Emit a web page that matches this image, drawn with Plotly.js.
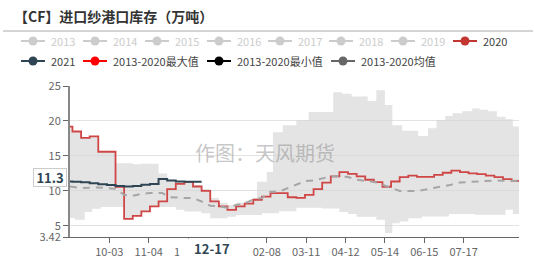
<!DOCTYPE html>
<html><head><meta charset="utf-8">
<script src="https://cdn.plot.ly/plotly-3.0.1.min.js"></script>
<style>html,body{margin:0;padding:0;background:#fff;}#chart{width:534px;height:271px;}</style>
</head><body><div id="chart"></div>
<script>
// season calendar 09-01 .. 08-31 (category days)
const monthDays = [[9,30],[10,31],[11,30],[12,31],[1,31],[2,29],[3,31],[4,30],[5,31],[6,30],[7,31],[8,31]];
const categories = [];
monthDays.forEach(([m,n]) => { for (let d = 1; d <= n; d++) categories.push(String(m).padStart(2,'0') + '-' + String(d).padStart(2,'0')); });

const tickLabels = ['10-03','11-04','12-06','01-07','02-08','03-11','04-12','05-14','06-15','07-17'];
const tickShown  = ['10-03','11-04','12-06','','02-08','03-11','04-12','05-14','06-15','07-17'];
const yTicks = [3.42, 5, 10, 15, 20, 25];

const dates2020 = ['09-01','09-03','09-10','09-17','09-24','10-08','10-15','10-22','10-29','11-05','11-12','11-19','11-26','12-03','12-10','12-17','12-24','12-31','01-07','01-14','01-21','01-28','02-04','02-11','02-25','03-03','03-10','03-17','03-24','03-31','04-07','04-14','04-21','04-28','05-05','05-12','05-19','05-26','06-02','06-09','06-23','06-30','07-07','07-14','07-21','07-28','08-04','08-11','08-18','08-25','08-31'];
const values2020 = [19.2,18.5,17.6,17.8,15.6,10.6,6.0,6.45,7.07,7.8,8.5,10.26,11.0,11.3,10.64,10.0,8.5,7.8,7.3,7.8,8.2,8.74,9.2,9.7,9.1,9.0,9.45,10.26,11.2,12.07,12.7,12.45,12.07,11.6,11.26,10.6,11.35,11.97,12.2,12.0,12.3,12.6,12.9,12.7,12.5,12.4,12.2,11.97,11.7,11.45,11.45];

const dates2021 = ['09-01','09-03','09-10','09-17','09-24','10-01','10-08','10-15','10-22','10-29','11-05','11-12','11-19','11-26','12-03','12-10','12-17'];
const values2021 = [11.35,11.3,11.25,11.1,10.95,10.85,10.7,10.65,10.7,10.9,11.0,11.7,11.5,11.35,11.3,11.3,11.3];

const datesAvg = ['09-01','09-10','09-24','10-03','10-08','10-15','10-22','10-29','11-05','11-15','11-22','12-03','12-10','12-17','12-24','12-31','01-07','01-14','01-21','01-28','02-04','02-11','02-18','02-25','03-03','03-10','03-17','03-24','03-31','04-07','04-14','04-21','04-28','05-05','05-12','05-19','05-26','06-02','06-09','06-16','06-23','06-30','07-07','07-14','07-21','07-28','08-04','08-11','08-18','08-25','08-31'];
const valuesAvg = [10.64,10.4,10.5,10.4,10.3,9.45,9.3,9.6,9.7,9.7,9.1,9.0,9.0,8.5,7.9,7.8,7.6,8.0,8.2,8.8,9.0,9.9,9.9,10.4,10.9,11.4,11.5,11.8,12.07,12.1,12.0,11.6,11.4,11.3,10.9,10.4,10.0,10.0,10.0,10.2,10.4,10.7,10.9,11.2,11.3,11.4,11.45,11.5,11.45,11.5,11.45];

const datesMax = ['09-01','09-03','09-10','09-17','09-24','10-08','10-22','10-29','11-12','11-19','11-26','12-03','12-10','12-17','12-24','12-31','01-07','01-14','01-21','01-28','01-31','02-08','02-13','02-21','03-03','03-13','04-02','04-09','04-17','04-30','05-07','05-14','05-20','05-28','06-10','06-18','06-25','07-02','07-08','07-16','07-24','07-30','08-06','08-13','08-20','08-26','08-31'];
const valuesMax = [19.2,18.5,17.6,17.8,15.6,13.97,13.8,13.9,12.5,11.5,11.4,11.3,10.8,10.3,9.0,8.3,8.0,8.3,8.6,9.0,11.3,12.7,18.4,19.4,20.1,21.3,24.1,23.9,23.5,22.86,24.4,22.3,19.4,18.6,17.87,18.96,20.15,20.7,21.1,21.4,21.8,21.6,21.4,20.6,20.25,19.2,19.2];

const datesMin = ['09-01','09-05','09-13','09-19','09-26','10-15','10-22','10-29','11-05','11-26','12-03','12-17','12-24','01-07','01-14','02-04','02-18','03-03','03-24','04-07','04-14','04-21','05-07','05-14','05-20','05-26','06-02','06-13','07-05','07-26','08-20','08-26','08-31'];
const valuesMin = [6.15,5.9,7.0,7.45,7.7,6.0,6.45,7.07,7.7,7.3,7.07,6.8,6.1,6.3,6.55,6.8,7.1,7.6,7.5,7.0,6.7,6.3,5.9,4.0,5.4,5.64,6.1,6.36,6.7,6.6,7.3,6.7,6.7];

const legendNames  = ['2013','2014','2015','2016','2017','2018','2019','2020','2021','2013-2020最大值','2013-2020最小值','2013-2020均值'];
const legendColors = ['#cccccc','#cccccc','#cccccc','#cccccc','#cccccc','#cccccc','#cccccc','#c23531','#2f4554','#ff0000','#000000','#666666'];
const legendActive = [false,false,false,false,false,false,false,true,true,true,true,true];
const legendPos = [[33,41],[95,41],[157,41],[219,41],[280,41],[341,41],[403,41],[465,41],[33,61],[95,61],[219,61],[343,61]];

const idx = d => categories.indexOf(d);
const FONT = '"Noto Sans CJK SC", "Noto Sans", sans-serif';

const W = 534, H = 271, M = {l:70, r:15, t:86, b:34};
const PW = W - M.l - M.r, PH = H - M.t - M.b;
const px = x => (x - M.l) / PW;
const py = y => (H - M.b - y) / PH;

const traces = [
  {x: datesMin.map(idx), y: valuesMin, mode:'lines', line:{width:0, shape:'hv'}, hoverinfo:'skip', showlegend:false},
  {x: datesMax.map(idx), y: valuesMax, mode:'lines', line:{width:0, shape:'hv'}, fill:'tonexty', fillcolor:'rgba(210,210,210,0.6)', hoverinfo:'skip', showlegend:false},
  {x: dates2020.map(idx), y: values2020, mode:'lines', line:{color:'#cf4646', width:1.8, shape:'hv'}, showlegend:false},
  {x: dates2021.map(idx), y: values2021, mode:'lines', line:{color:'#2f4554', width:2, shape:'hv'}, showlegend:false},
  {x: datesAvg.map(idx), y: valuesAvg, mode:'lines', line:{color:'#a6a6a6', width:2, dash:'7px,6px'}, showlegend:false}
];

const shapes = [
  {type:'line', xref:'paper', yref:'paper', x0:px(3), x1:px(533), y0:py(31), y1:py(31), line:{color:'#aaaaaa', width:1}}
];
const annotations = [
  {xref:'paper', yref:'paper', x:px(265), y:py(152), xanchor:'center', yanchor:'middle', text:'作图：天风期货', showarrow:false, font:{family:FONT, size:20, color:'rgba(130,130,130,0.45)'}},
  {xref:'paper', yref:'y', x:px(50), y:11.3, yshift:4, xanchor:'center', yanchor:'middle', text:'<b>11.3</b>', showarrow:false, bgcolor:'#ffffff', bordercolor:'#cccccc', borderwidth:1, borderpad:1, width:30, height:15, font:{family:FONT, size:13, color:'#2f4554'}},
  {xref:'x', yref:'paper', x:idx('12-17'), xshift:10, y:py(247.5), xanchor:'center', yanchor:'middle', text:'<b>12-17</b>', showarrow:false, bgcolor:'#ffffff', width:62, height:16, font:{family:FONT, size:13, color:'#2f4554'}}
];
legendNames.forEach((name, i) => {
  const [cx, cy] = legendPos[i];
  const c = legendColors[i];
  shapes.push({type:'line', xref:'paper', yref:'paper', x0:px(cx-12), x1:px(cx+12), y0:py(cy), y1:py(cy), line:{color:c, width:2}});
  shapes.push({type:'circle', xref:'paper', yref:'paper', x0:px(cx-4.5), x1:px(cx+4.5), y0:py(cy-4.5), y1:py(cy+4.5), fillcolor:c, line:{color:c, width:0}});
  annotations.push({xref:'paper', yref:'paper', x:px(cx+16), y:py(cy), xanchor:'left', yanchor:'middle', text:name, showarrow:false, font:{family:FONT, size:11, color: legendActive[i] ? '#444444' : '#cccccc'}});
});

const layout = {
  width: W, height: H, margin: M, paper_bgcolor:'#fff', plot_bgcolor:'#fff',
  title: {text:'<b>【CF】进口纱港口库存（万吨）</b>', xref:'container', yref:'container', x:14/W, xanchor:'left', y:1-17/H, yanchor:'middle', font:{family:FONT, size:14, color:'#333333'}},
  xaxis: {range:[0,365], tickvals: tickLabels.map(idx), ticktext: tickShown, ticks:'outside', ticklen:5, tickcolor:'#666', showline:true, linecolor:'#666', linewidth:1, showgrid:false, zeroline:false, tickfont:{family:FONT, size:11, color:'#666'}, fixedrange:true},
  yaxis: {range:[3.42,25], tickvals: yTicks, ticktext: yTicks.map(String), ticks:'outside', ticklen:5, tickcolor:'#666', showline:true, linecolor:'#888', linewidth:2, showgrid:true, gridcolor:'#e3e3e3', gridwidth:1, zeroline:false, tickfont:{family:FONT, size:11, color:'#666'}, fixedrange:true},
  shapes, annotations, showlegend:false
};
Plotly.newPlot('chart', traces, layout, {displayModeBar:false, staticPlot:true});
</script></body></html>
